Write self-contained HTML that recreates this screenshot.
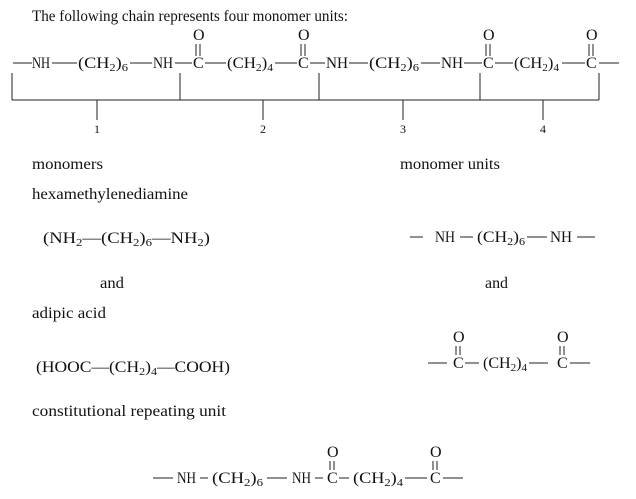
<!DOCTYPE html>
<html><head><meta charset="utf-8"><style>
html,body{margin:0;padding:0;background:#fff;}
svg{display:block;}
text{font-family:"Liberation Serif",serif;font-size:16px;fill:#111;}
.s{font-size:11px;}
line{stroke:#222;stroke-width:1;}
</style></head><body>
<svg width="636" height="499" viewBox="0 0 636 499" xmlns="http://www.w3.org/2000/svg">
<text x="32" y="21" textLength="316" lengthAdjust="spacingAndGlyphs">The following chain represents four monomer units:</text>

<!-- main chain, center y=63 -->
<g>
<line x1="13" y1="63" x2="32" y2="63"/>
<text x="32" y="68" textLength="18" lengthAdjust="spacingAndGlyphs">NH</text>
<line x1="52" y1="63" x2="77" y2="63"/>
<text x="78" y="68" textLength="50" lengthAdjust="spacingAndGlyphs">(CH<tspan class="s" dy="3">2</tspan><tspan dy="-3">)</tspan><tspan class="s" dy="3">6</tspan></text>
<line x1="130" y1="63" x2="152" y2="63"/>
<text x="153" y="68" textLength="20" lengthAdjust="spacingAndGlyphs">NH</text>
<line x1="175" y1="63" x2="192" y2="63"/>
<text x="193" y="68">C</text>
<text x="193" y="40">O</text>
<line x1="196" y1="44" x2="196" y2="56"/><line x1="200" y1="44" x2="200" y2="56"/>
<line x1="205" y1="63" x2="226" y2="63"/>
<text x="227" y="68" textLength="46" lengthAdjust="spacingAndGlyphs">(CH<tspan class="s" dy="3">2</tspan><tspan dy="-3">)</tspan><tspan class="s" dy="3">4</tspan></text>
<line x1="275" y1="63" x2="297" y2="63"/>
<text x="298" y="68">C</text>
<text x="298" y="40">O</text>
<line x1="301" y1="44" x2="301" y2="56"/><line x1="305" y1="44" x2="305" y2="56"/>
<line x1="310" y1="63" x2="325" y2="63"/>
<text x="326" y="68" textLength="22" lengthAdjust="spacingAndGlyphs">NH</text>
<line x1="349" y1="63" x2="368" y2="63"/>
<text x="369" y="68" textLength="50" lengthAdjust="spacingAndGlyphs">(CH<tspan class="s" dy="3">2</tspan><tspan dy="-3">)</tspan><tspan class="s" dy="3">6</tspan></text>
<line x1="421" y1="63" x2="440" y2="63"/>
<text x="441" y="68" textLength="22" lengthAdjust="spacingAndGlyphs">NH</text>
<line x1="464" y1="63" x2="482" y2="63"/>
<text x="483" y="68">C</text>
<text x="483" y="40">O</text>
<line x1="486" y1="44" x2="486" y2="56"/><line x1="490" y1="44" x2="490" y2="56"/>
<line x1="495" y1="63" x2="513" y2="63"/>
<text x="514" y="68" textLength="45" lengthAdjust="spacingAndGlyphs">(CH<tspan class="s" dy="3">2</tspan><tspan dy="-3">)</tspan><tspan class="s" dy="3">4</tspan></text>
<line x1="562" y1="63" x2="585" y2="63"/>
<text x="586" y="68">C</text>
<text x="586" y="40">O</text>
<line x1="589" y1="44" x2="589" y2="56"/><line x1="593" y1="44" x2="593" y2="56"/>
<line x1="599" y1="63" x2="619" y2="63"/>
</g>

<!-- brackets -->
<g>
<line x1="12" y1="73" x2="12" y2="100"/>
<line x1="180" y1="73" x2="180" y2="100"/>
<line x1="319" y1="73" x2="319" y2="100"/>
<line x1="480" y1="73" x2="480" y2="100"/>
<line x1="599" y1="73" x2="599" y2="100"/>
<line x1="12" y1="100" x2="599" y2="100"/>
<line x1="97" y1="100" x2="97" y2="120"/>
<line x1="263" y1="100" x2="263" y2="120"/>
<line x1="403" y1="100" x2="403" y2="120"/>
<line x1="543" y1="100" x2="543" y2="120"/>
<text x="97" y="133" text-anchor="middle" style="font-size:12px">1</text>
<text x="263" y="133" text-anchor="middle" style="font-size:12px">2</text>
<text x="403" y="133" text-anchor="middle" style="font-size:12px">3</text>
<text x="543" y="133" text-anchor="middle" style="font-size:12px">4</text>
</g>

<text x="32" y="169" textLength="71" lengthAdjust="spacingAndGlyphs">monomers</text>
<text x="400" y="169" textLength="100" lengthAdjust="spacingAndGlyphs">monomer units</text>
<text x="32" y="199" textLength="156" lengthAdjust="spacingAndGlyphs">hexamethylenediamine</text>

<text x="43" y="243" textLength="167" lengthAdjust="spacingAndGlyphs">(NH<tspan class="s" dy="3">2</tspan><tspan dy="-3">—</tspan>(CH<tspan class="s" dy="3">2</tspan><tspan dy="-3">)</tspan><tspan class="s" dy="3">6</tspan><tspan dy="-3">—</tspan>NH<tspan class="s" dy="3">2</tspan><tspan dy="-3">)</tspan></text>

<line x1="410" y1="237" x2="423" y2="237"/>
<text x="435" y="242" textLength="20" lengthAdjust="spacingAndGlyphs">NH</text>
<line x1="460" y1="237" x2="473" y2="237"/>
<text x="477" y="242" textLength="48" lengthAdjust="spacingAndGlyphs">(CH<tspan class="s" dy="3">2</tspan><tspan dy="-3">)</tspan><tspan class="s" dy="3">6</tspan></text>
<line x1="527" y1="237" x2="547" y2="237"/>
<text x="550" y="242" textLength="22" lengthAdjust="spacingAndGlyphs">NH</text>
<line x1="577" y1="237" x2="595" y2="237"/>

<text x="100" y="288" textLength="24" lengthAdjust="spacingAndGlyphs">and</text>
<text x="485" y="288" textLength="23" lengthAdjust="spacingAndGlyphs">and</text>
<text x="32" y="318" textLength="74" lengthAdjust="spacingAndGlyphs">adipic acid</text>

<text x="36" y="372" textLength="194" lengthAdjust="spacingAndGlyphs">(HOOC<tspan>—</tspan>(CH<tspan class="s" dy="3">2</tspan><tspan dy="-3">)</tspan><tspan class="s" dy="3">4</tspan><tspan dy="-3">—</tspan>COOH)</text>

<!-- right adipic unit, center y=363 -->
<line x1="428" y1="363" x2="447" y2="363"/>
<text x="453" y="368">C</text>
<text x="453" y="342">O</text>
<line x1="456" y1="346" x2="456" y2="355"/><line x1="460" y1="346" x2="460" y2="355"/>
<line x1="465" y1="363" x2="479" y2="363"/>
<text x="483" y="368" textLength="44" lengthAdjust="spacingAndGlyphs">(CH<tspan class="s" dy="3">2</tspan><tspan dy="-3">)</tspan><tspan class="s" dy="3">4</tspan></text>
<line x1="529" y1="363" x2="548" y2="363"/>
<text x="557" y="368">C</text>
<text x="557" y="342">O</text>
<line x1="560" y1="346" x2="560" y2="355"/><line x1="564" y1="346" x2="564" y2="355"/>
<line x1="570" y1="363" x2="590" y2="363"/>

<text x="32" y="416" textLength="194" lengthAdjust="spacingAndGlyphs">constitutional repeating unit</text>

<!-- repeating unit, center y=478 -->
<line x1="153" y1="478" x2="173" y2="478"/>
<text x="177" y="483" textLength="19" lengthAdjust="spacingAndGlyphs">NH</text>
<line x1="200" y1="478" x2="208" y2="478"/>
<text x="212" y="483" textLength="51" lengthAdjust="spacingAndGlyphs">(CH<tspan class="s" dy="3">2</tspan><tspan dy="-3">)</tspan><tspan class="s" dy="3">6</tspan></text>
<line x1="267" y1="478" x2="287" y2="478"/>
<text x="292" y="483" textLength="19" lengthAdjust="spacingAndGlyphs">NH</text>
<line x1="315" y1="478" x2="323" y2="478"/>
<text x="327" y="483">C</text>
<text x="327" y="457">O</text>
<line x1="330" y1="461" x2="330" y2="470"/><line x1="334" y1="461" x2="334" y2="470"/>
<line x1="339" y1="478" x2="349" y2="478"/>
<text x="353" y="483" textLength="50" lengthAdjust="spacingAndGlyphs">(CH<tspan class="s" dy="3">2</tspan><tspan dy="-3">)</tspan><tspan class="s" dy="3">4</tspan></text>
<line x1="405" y1="478" x2="427" y2="478"/>
<text x="430" y="483">C</text>
<text x="430" y="457">O</text>
<line x1="433" y1="461" x2="433" y2="470"/><line x1="437" y1="461" x2="437" y2="470"/>
<line x1="443" y1="478" x2="463" y2="478"/>
</svg>
</body></html>
